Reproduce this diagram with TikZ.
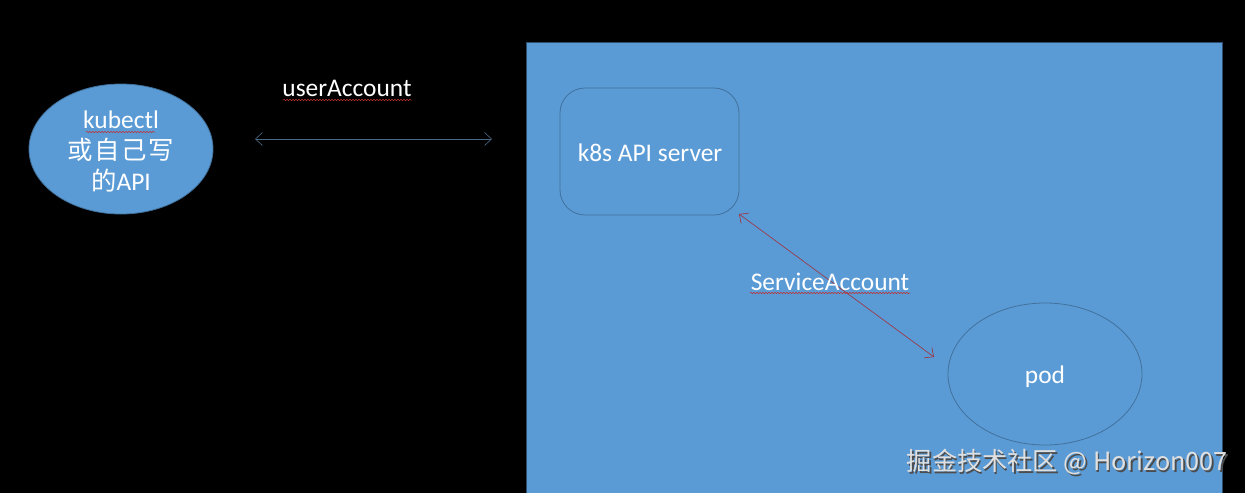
\documentclass[tikz,border=0pt]{standalone}
\usepackage{fontspec}
\setmainfont{Carlito}
\newfontfamily\cjk{Noto Sans CJK SC}
\usetikzlibrary{arrows.meta,decorations.pathmorphing,shapes.geometric}
\definecolor{boxblue}{HTML}{5B9BD5}
\definecolor{edgeblue}{HTML}{41719C}
\definecolor{arrowgray}{HTML}{4A6A86}
\definecolor{arrowred}{HTML}{A0303A}
\definecolor{squig}{HTML}{C03030}
\tikzset{
  lbl/.style={text=white,font=\fontsize{25.4}{31}\selectfont,inner sep=0pt},
  shape edge/.style={draw=edgeblue,line width=0.8pt},
  conn/.style={line width=0.6pt,{Straight Barb[length=7pt,width=13pt]}-{Straight Barb[length=7pt,width=13pt]}},
  spell/.style={draw=squig,line width=0.5pt,decorate,decoration={snake,amplitude=0.7pt,segment length=3pt}},
  wm/.style={font=\cjk\fontsize{25.2}{28}\selectfont,inner sep=0pt}
}
\begin{document}
\begin{tikzpicture}[x=1pt,y=-1pt]
\useasboundingbox (0,0) rectangle (1245,493);
\fill[black] (0,0) rectangle (1245,493);
% cluster area
\fill[boxblue] (526,42) rectangle (1222,493);
\draw[edgeblue!70!black,line width=0.6pt] (526,493) -- (526,42) -- (1222,42) -- (1222,493);
% client ellipse
\node[shape edge,fill=boxblue,ellipse,minimum width=184pt,minimum height=130pt,inner sep=0pt] (client) at (121,149) {};
\node[lbl,align=center] (clienttext) at (121,151) {kubectl\\{\cjk\addfontfeature{LetterSpace=6} 或自己写}\\{\cjk 的}API};
\draw[spell] (86,132) -- (155,132);
% API server
\node[shape edge,rounded corners=25pt,minimum width=179pt,minimum height=127pt] (api) at (649.5,151.5) {};
\node[lbl] (apitext) at (650,153) {k8s API server};
% pod
\node[shape edge,ellipse,minimum width=194pt,minimum height=142pt,inner sep=0pt] (pod) at (1045,374) {};
\node[lbl] (podtext) at (1045,377) {pod};
% userAccount connector
\coordinate (ua1) at (255,139);
\coordinate (ua2) at (492,139);
\draw[conn,draw=arrowgray] (ua1) -- (ua2);
\node[lbl] (ualbl) at (347,88) {userAccount};
\draw[spell] (283,100) -- (412,100);
% ServiceAccount connector
\coordinate (sa1) at (739,214);
\coordinate (sa2) at (934,357);
\draw[conn,draw=arrowred] (sa1) -- (sa2);
\node[lbl] (salbl) at (830,282) {ServiceAccount};
\draw[spell] (750,293) -- (910,293);
% watermark
\node[wm,text=black!70,anchor=east] (wmshadow) at (1229.5,463.5) {掘金技术社区 @ Horizon007};
\node[wm,text=white!88!black,anchor=east] (wmark) at (1228,462) {掘金技术社区 @ Horizon007};
\end{tikzpicture}
\end{document}
